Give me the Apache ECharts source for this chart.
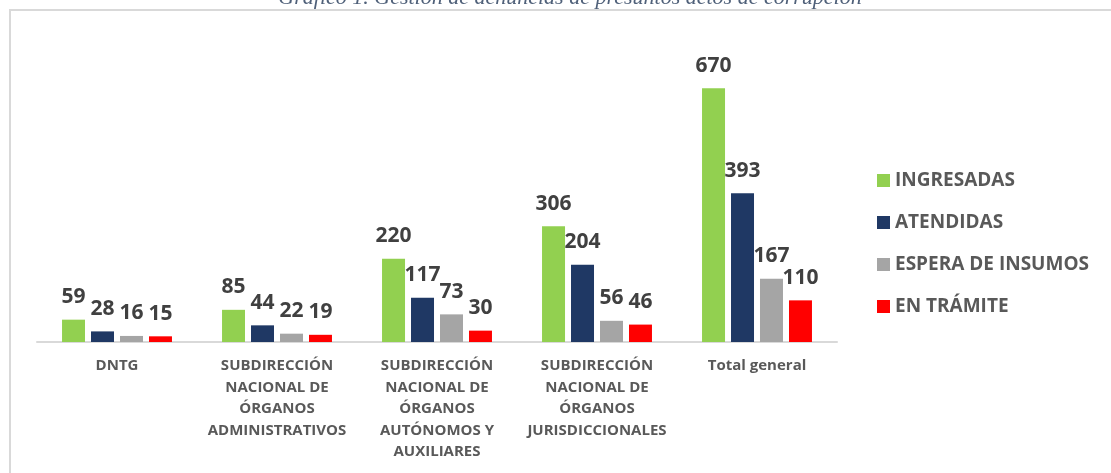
<!DOCTYPE html>
<html>
<head>
<meta charset="utf-8">
<script src="https://cdn.jsdelivr.net/npm/echarts@6/dist/echarts.min.js"></script>
<style>
  html, body { margin: 0; padding: 0; background: #fff; }
  #chart { width: 1111px; height: 473px; }
</style>
</head>
<body>
<div id="chart"></div>
<script>
  // categorías (eje X)
  var categorias = [
    'DNTG',
    'SUBDIRECCIÓN\nNACIONAL DE\nÓRGANOS\nADMINISTRATIVOS',
    'SUBDIRECCIÓN\nNACIONAL DE\nÓRGANOS\nAUTÓNOMOS Y\nAUXILIARES',
    'SUBDIRECCIÓN\nNACIONAL DE\nÓRGANOS\nJURISDICCIONALES',
    'Total general'
  ];
  var ingresadas = [59, 85, 220, 306, 670];
  var atendidas = [28, 44, 117, 204, 393];
  var esperaInsumos = [16, 22, 73, 56, 167];
  var enTramite = [15, 19, 30, 46, 110];

  var chart = echarts.init(document.getElementById('chart'));

  var etiqueta = {
    show: true,
    position: 'top',
    distance: 12,
    fontFamily: 'Open Sans',
    fontSize: 21,
    fontWeight: 'bold',
    color: '#404040'
  };

  function serie(nombre, datos, color) {
    return {
      name: nombre,
      type: 'bar',
      data: datos,
      barWidth: 23,
      barGap: '26%',
      itemStyle: { color: color },
      label: etiqueta
    };
  }

  chart.setOption({
    animation: false,
    // marco y título recortado arriba
    graphic: [
      {
        type: 'rect',
        shape: { x: 10, y: 10, width: 1300, height: 700 },
        style: { fill: 'none', stroke: '#d9d9d9', lineWidth: 2 },
        silent: true
      },
      {
        type: 'text',
        x: 570,
        y: -2,
        style: {
          text: 'Gráfico 1. Gestión de denuncias de presuntos actos de corrupción',
          fontFamily: 'Liberation Serif',
          fontStyle: 'italic',
          fontSize: 22,
          fill: '#4f6079',
          align: 'center',
          verticalAlign: 'middle'
        },
        silent: true
      }
    ],
    grid: { left: 37, right: 274, top: 77, bottom: 131 },
    legend: {
      orient: 'vertical',
      left: 877,
      top: 171,
      padding: 0,
      itemWidth: 13,
      itemHeight: 13,
      itemGap: 23,
      icon: 'rect',
      textStyle: {
        fontFamily: 'Open Sans',
        fontSize: 19,
        fontWeight: 'bold',
        color: '#595959'
      },
      data: ['INGRESADAS', 'ATENDIDAS', 'ESPERA DE INSUMOS', 'EN TRÁMITE']
    },
    xAxis: {
      type: 'category',
      data: categorias,
      axisLine: { lineStyle: { color: '#d9d9d9', width: 2 } },
      axisTick: { show: false },
      axisLabel: {
        interval: 0,
        margin: 13,
        fontFamily: 'Open Sans',
        fontSize: 15,
        fontWeight: 'bold',
        lineHeight: 21.5,
        color: '#595959'
      }
    },
    yAxis: {
      type: 'value',
      min: 0,
      max: 700,
      show: false,
      splitLine: { show: false }
    },
    series: [
      serie('INGRESADAS', ingresadas, '#92d050'),
      serie('ATENDIDAS', atendidas, '#1f3864'),
      serie('ESPERA DE INSUMOS', esperaInsumos, '#a5a5a5'),
      serie('EN TRÁMITE', enTramite, '#ff0000')
    ]
  });
</script>
</body>
</html>
